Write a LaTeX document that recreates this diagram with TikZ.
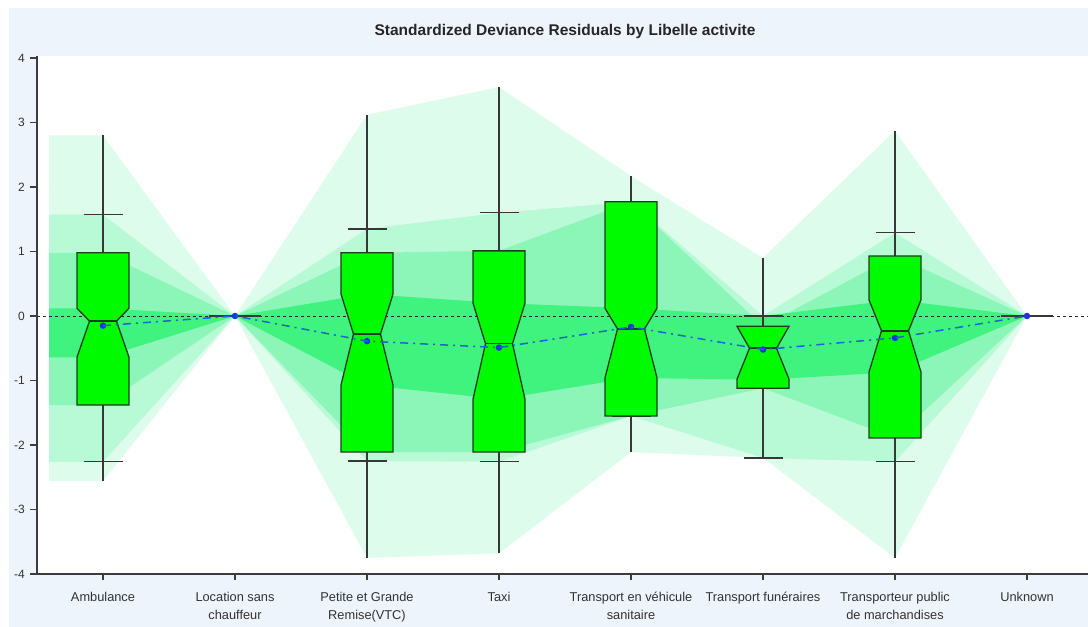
\documentclass[tikz,border=0pt]{standalone}
\usepackage{fontspec}
\setmainfont{Liberation Sans}
\definecolor{bgblue}{RGB}{238,244,252}
\definecolor{bandA}{RGB}{222,252,236}
\definecolor{bandB}{RGB}{184,249,214}
\definecolor{bandC}{RGB}{140,246,184}
\definecolor{bandD}{RGB}{64,242,126}
\definecolor{boxgreen}{RGB}{0,250,0}
\definecolor{boxedge}{RGB}{30,60,30}
\definecolor{whisk}{RGB}{55,55,55}
\definecolor{meanline}{RGB}{30,100,210}
\definecolor{meanpt}{RGB}{30,50,220}
\definecolor{axisgray}{RGB}{60,60,60}
\definecolor{labgray}{RGB}{50,50,50}
\tikzset{
  whiskline/.style={draw=whisk, line width=1.3pt},
  boxshape/.style={fill=boxgreen, draw=boxedge, line width=1.3pt, line join=miter},
  meanmark/.style={circle, fill=meanpt, inner sep=0pt, minimum size=6.5pt},
  meanconn/.style={draw=meanline, line width=1.5pt, dash pattern=on 8pt off 5pt on 2pt off 5pt},
  zeroline/.style={draw=black!85, line width=0.9pt, dash pattern=on 3pt off 3pt},
  axisline/.style={draw=axisgray, line width=1.6pt},
  ticklab/.style={text=labgray, font=\fontsize{12}{14}\selectfont},
  catlab/.style={text=labgray, font=\fontsize{12.8}{18}\selectfont, align=center, anchor=north, inner sep=0pt},
  titletext/.style={font=\bfseries\fontsize{15.5}{18}\selectfont, text=black!85}
}
\begin{document}
\begin{tikzpicture}[x=1pt,y=1pt]
\useasboundingbox (0,0) rectangle (1088,627);
\fill[white] (0,0) rectangle (1088,627);
\fill[bgblue] (9,0) rectangle (1088,619);
\fill[white] (37,52) rectangle (1088,571);
\node[titletext] (title) at (565,596) {Standardized Deviance Residuals by Libelle activite};
\begin{scope}[yshift=311pt, y=64.5pt]
% shaded bands
\fill[bandA] (49,2.8) -- (103,2.8) -- (235,0) -- (367,3.12) -- (499,3.55) -- (631,2.17) -- (763,0.9) -- (895,2.87) -- (1027,0)
  -- (895,-3.75) -- (763,-2.2) -- (631,-2.11) -- (499,-3.68) -- (367,-3.75) -- (235,0) -- (103,-2.56) -- (49,-2.56) -- cycle;
\fill[bandB] (49,1.57) -- (103,1.57) -- (235,0) -- (367,1.35) -- (499,1.6) -- (631,1.77) -- (763,0) -- (895,1.29) -- (1027,0)
  -- (895,-2.26) -- (763,-2.2) -- (631,-1.55) -- (499,-2.26) -- (367,-2.25) -- (235,0) -- (103,-2.26) -- (49,-2.26) -- cycle;
\fill[bandC] (49,0.98) -- (103,0.98) -- (235,0) -- (367,0.98) -- (499,1.01) -- (631,1.77) -- (763,-0.16) -- (895,0.93) -- (1027,0)
  -- (895,-1.89) -- (763,-1.12) -- (631,-1.55) -- (499,-2.11) -- (367,-2.11) -- (235,0) -- (103,-1.38) -- (49,-1.38) -- cycle;
\fill[bandD] (49,0.12) -- (103,0.12) -- (235,0) -- (367,0.34) -- (499,0.2) -- (631,0.12) -- (763,0) -- (895,0.25) -- (1027,0)
  -- (895,-0.87) -- (763,-0.99) -- (631,-0.96) -- (499,-1.29) -- (367,-1.07) -- (235,0) -- (103,-0.64) -- (49,-0.64) -- cycle;
% zero reference line
\draw[zeroline] (37,0) -- (1088,0);
% notched boxes
\foreach \x/\wl/\wu/\cl/\cu/\qa/\qb/\nl/\nu/\md in {
  103/-2.56/2.8/-2.26/1.57/-1.38/0.98/-0.64/0.12/-0.08,
  367/-3.75/3.12/-2.25/1.35/-2.11/0.98/-1.07/0.34/-0.28,
  499/-3.68/3.55/-2.26/1.6/-2.11/1.01/-1.29/0.2/-0.43,
  631/-2.11/2.17/-1.55/1.77/-1.55/1.77/-0.96/0.12/-0.2,
  763/-2.2/0.9/-2.2/0/-1.12/-0.16/-0.98/-0.16/-0.5,
  895/-3.75/2.87/-2.26/1.29/-1.89/0.93/-0.87/0.25/-0.23}{
  \draw[whiskline] (\x,\wl) -- (\x,\wu);
  \draw[whiskline] (\x-19.5,\cl) -- (\x+19.5,\cl);
  \draw[whiskline] (\x-19.5,\cu) -- (\x+19.5,\cu);
  \path[boxshape] (\x-26,\qb) -- (\x+26,\qb) -- (\x+26,\nu) -- (\x+13.5,\md) -- (\x+26,\nl) -- (\x+26,\qa)
    -- (\x-26,\qa) -- (\x-26,\nl) -- (\x-13.5,\md) -- (\x-26,\nu) -- cycle;
  \draw[draw=boxedge, line width=1.5pt] (\x-13.5,\md) -- (\x+13.5,\md);
}
\draw[whiskline] (209,0) -- (261,0);
\draw[whiskline] (1001,0) -- (1053,0);
% means
\node[meanmark] (m1) at (103,-0.15) {};
\node[meanmark] (m2) at (235,0) {};
\node[meanmark] (m3) at (367,-0.39) {};
\node[meanmark] (m4) at (499,-0.49) {};
\node[meanmark] (m5) at (631,-0.17) {};
\node[meanmark] (m6) at (763,-0.52) {};
\node[meanmark] (m7) at (895,-0.34) {};
\node[meanmark] (m8) at (1027,0) {};
\draw[meanconn] (m1.center) -- (m2.center) -- (m3.center) -- (m4.center) -- (m5.center) -- (m6.center) -- (m7.center) -- (m8.center);
% axes
\draw[axisline] (37,4.03) -- (37,-4) -- (1088,-4);
\foreach \v in {-4,...,4}{
  \draw[axisline, line width=1.2pt] (30,\v) -- (37,\v);
  \node[ticklab, anchor=east, inner sep=0pt] (yl\v) at (25,\v) {\v};
}
\foreach \x in {103,235,367,499,631,763,895,1027}{
  \draw[axisline, line width=1.2pt] (\x,-4) -- (\x,-4.1);
}
\end{scope}
\node[catlab] (c1) at (103,35) {Ambulance};
\node[catlab] (c2) at (235,35) {Location sans\\chauffeur};
\node[catlab] (c3) at (367,35) {Petite et Grande\\Remise(VTC)};
\node[catlab] (c4) at (499,35) {Taxi};
\node[catlab] (c5) at (631,35) {Transport en véhicule\\sanitaire};
\node[catlab] (c6) at (763,35) {Transport funéraires};
\node[catlab] (c7) at (895,35) {Transporteur public\\de marchandises};
\node[catlab] (c8) at (1027,35) {Unknown};
\end{tikzpicture}
\end{document}
